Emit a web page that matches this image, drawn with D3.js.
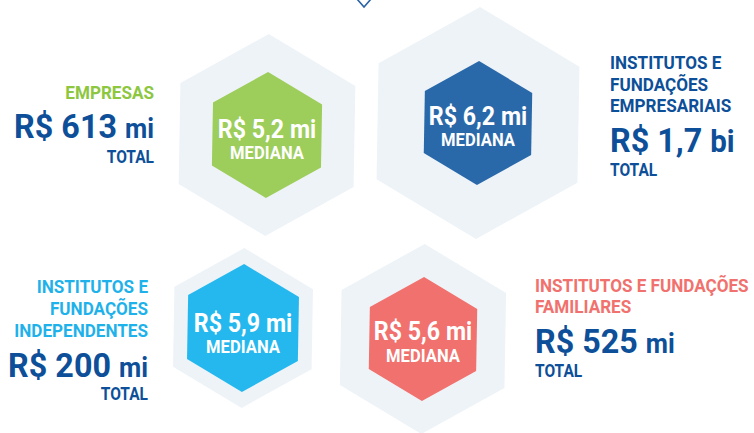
<!DOCTYPE html>
<html lang="pt">
  <head>
    <meta charset="utf-8">
    <title>Mediana e total por tipo de investidor</title>
    <script src="https://d3js.org/d3.v7.min.js"></script>
    <style>
      body { margin: 0; background: #fff; }
      text { font-family: Roboto, "Noto Sans", sans-serif; font-weight: 700; }
    </style>
  </head>
  <body>
    <div id="chart"></div>
    <script type="text/javascript">
      // data
      var labelLines = [
        ["EMPRESAS"],
        ["INSTITUTOS E", "FUNDAÇÕES", "EMPRESARIAIS"],
        ["INSTITUTOS E", "FUNDAÇÕES", "INDEPENDENTES"],
        ["INSTITUTOS E FUNDAÇÕES", "FAMILIARES"]
      ];
      var totals = ["613", "1,7", "200", "525"];
      var totalUnits = ["mi", "bi", "mi", "mi"];
      var medians = ["5,2", "6,2", "5,9", "5,6"];
      var labelColors = ["#8dc63f", "#0d4f98", "#1fb2ea", "#f0716d"];
      var hexColors = ["#9dcd5a", "#2a69a9", "#25b8ee", "#f1716e"];

      // layout for each block (hex center, radii, text anchor and baselines)
      var layout = [
        { cx: 267, cy: 135, outer: 101, inner: 63, tx: 154, anchor: "end",
          labelY: [99], totalY: 138, totalLabelY: 163, medY: 138, medLabelY: 159 },
        { cx: 478, cy: 123, outer: 116, inner: 62, tx: 610, anchor: "start",
          labelY: [69, 91, 112], totalY: 152, totalLabelY: 176, medY: 125, medLabelY: 146 },
        { cx: 243, cy: 328, outer: 80, inner: 64, tx: 148, anchor: "end",
          labelY: [293, 315, 337], totalY: 377, totalLabelY: 400, medY: 332, medLabelY: 353 },
        { cx: 423, cy: 339, outer: 95, inner: 62, tx: 535, anchor: "start",
          labelY: [292, 313], totalY: 353, totalLabelY: 377, medY: 340, medLabelY: 362 }
      ];

      var svg = d3.select("#chart")
        .append("svg")
        .attr("width", 754)
        .attr("height", 433);

      // pointy-top hexagon
      var hexPath = function(r) {
        var pts = d3.range(6).map(function(i) {
          var a = Math.PI / 3 * i - Math.PI / 2;
          return [r * Math.cos(a), r * Math.sin(a)];
        });
        return d3.line()(pts) + "Z";
      };

      // condensed text: horizontal squeeze around the anchor point
      var addText = function(g, x, y, anchor, size, sx, fill, str) {
        return g.append("text")
          .attr("transform", "translate(" + x + "," + y + ") scale(" + sx + ",1)")
          .attr("text-anchor", anchor)
          .attr("fill", fill)
          .style("font-size", size + "px")
          .text(str);
      };

      // small chevron at the top
      svg.append("path")
        .attr("d", d3.line()([[357, -1], [364, 7], [371, -1]]))
        .attr("fill", "none")
        .attr("stroke", "#2a63a8")
        .attr("stroke-width", 1.6);

      var blocks = svg.selectAll(".block")
        .data(layout)
        .enter()
        .append("g")
        .attr("class", "block");

      // light outer hex
      blocks.append("path")
        .attr("transform", (d) => "translate(" + d.cx + "," + d.cy + ") rotate(1)")
        .attr("d", (d) => hexPath(d.outer))
        .attr("fill", "#eef3f8");

      // coloured inner hex
      blocks.append("path")
        .attr("transform", (d) => "translate(" + d.cx + "," + d.cy + ") rotate(1)")
        .attr("d", (d) => hexPath(d.inner))
        .attr("fill", (d, i) => hexColors[i]);

      blocks.each(function(d, i) {
        var g = d3.select(this);

        // median inside the hex
        addText(g, d.cx, d.medY, "middle", 25, 0.93, "#fff", "R$ " + medians[i] + " mi");
        addText(g, d.cx, d.medLabelY, "middle", 17.5, 0.95, "#fff", "MEDIANA");

        // category label lines
        labelLines[i].forEach(function(line, j) {
          addText(g, d.tx, d.labelY[j], d.anchor, 19, 0.9, labelColors[i], line);
        });

        // total value
        var t = addText(g, d.tx, d.totalY, d.anchor, 34, 0.95, "#0d4f98", "");
        t.append("tspan")
          .text("R$ " + totals[i] + " ");
        t.append("tspan")
          .style("font-size", totalUnits[i] == "bi" ? "31px" : "27px")
          .text(totalUnits[i]);

        addText(g, d.tx, d.totalLabelY, d.anchor, 18.5, 0.84, "#0d4f98", "TOTAL");
      });
    </script>
  </body>
</html>
